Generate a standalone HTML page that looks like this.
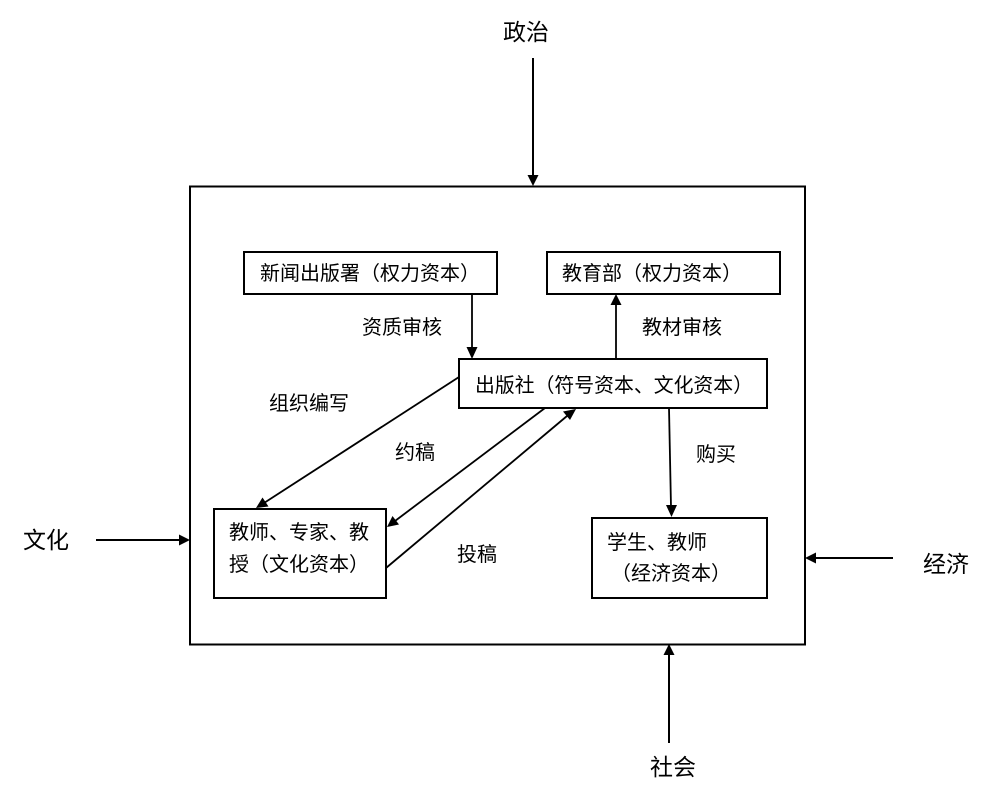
<!DOCTYPE html>
<html>
<head>
<meta charset="utf-8">
<style>
html,body{margin:0;padding:0;background:#fff;}
svg{display:block;}
text{font-family:"Liberation Sans","Noto Sans CJK SC",sans-serif;fill:#000;}
.o{font-size:23px;}
.i{font-size:20px;}
</style>
</head>
<body>
<svg width="989" height="797" viewBox="0 0 989 797" xmlns="http://www.w3.org/2000/svg">
<g stroke="#000" fill="none">
  <rect x="190" y="186.5" width="615" height="458" stroke-width="2"/>
  <rect x="244" y="252" width="253" height="42" stroke-width="2"/>
  <rect x="547" y="252" width="233" height="42" stroke-width="2"/>
  <rect x="459" y="359" width="308" height="49" stroke-width="2"/>
  <rect x="214" y="509" width="172" height="89" stroke-width="2"/>
  <rect x="592" y="518" width="175" height="80" stroke-width="2"/>
  <!-- outer arrows -->
  <line x1="533" y1="58" x2="533" y2="176" stroke-width="2"/>
  <line x1="96" y1="540" x2="180" y2="540" stroke-width="2"/>
  <line x1="893" y1="558" x2="815" y2="558" stroke-width="2"/>
  <line x1="669" y1="743" x2="669" y2="654" stroke-width="2"/>
  <!-- inner arrows -->
  <line x1="472" y1="294" x2="472" y2="348" stroke-width="1.8"/>
  <line x1="616" y1="359" x2="616" y2="304" stroke-width="1.8"/>
  <line x1="669" y1="408" x2="671" y2="507" stroke-width="1.8"/>
  <line x1="459" y1="377" x2="264" y2="503" stroke-width="1.8"/>
  <line x1="545" y1="408" x2="395" y2="521" stroke-width="1.8"/>
  <line x1="386" y1="568" x2="567" y2="416" stroke-width="1.8"/>
</g>
<g fill="#000">
  <polygon points="533,186 527.5,175 538.5,175"/>
  <polygon points="190,540 179,534.5 179,545.5"/>
  <polygon points="805,558 816,552.5 816,563.5"/>
  <polygon points="669,644 663.5,655 674.5,655"/>
  <polygon points="472,359 466.5,347 477.5,347"/>
  <polygon points="616,294 610.5,305 621.5,305"/>
  <polygon points="671.5,517 666,505 677,505"/>
  <!-- 组织编写 head at (256,508) direction from (459,377) -->
  <polygon points="256,508 262.5,497.5 268.5,506.5"/>
  <!-- 约稿 head at (387,527) -->
  <polygon points="387,527 392.5,516 399,524.5"/>
  <!-- 投稿 head at (576,409) -->
  <polygon points="576,409 570,420 563,411.5"/>
</g>
<g>
  <text class="o" x="503" y="40">政治</text>
  <text class="o" x="23" y="548">文化</text>
  <text class="o" x="923" y="572">经济</text>
  <text class="o" x="650" y="775">社会</text>

  <text class="i" x="260" y="280">新闻出版署（权力资本）</text>
  <text class="i" x="562" y="280">教育部（权力资本）</text>
  <text class="i" x="475" y="392" textLength="278" lengthAdjust="spacingAndGlyphs">出版社（符号资本、文化资本）</text>
  <text class="i" x="229" y="539">教师、专家、教</text>
  <text class="i" x="229" y="571">授（文化资本）</text>
  <text class="i" x="607" y="549">学生、教师</text>
  <text class="i" x="611" y="580">（经济资本）</text>

  <text class="i" x="362" y="334">资质审核</text>
  <text class="i" x="642" y="334">教材审核</text>
  <text class="i" x="269" y="410">组织编写</text>
  <text class="i" x="395" y="459">约稿</text>
  <text class="i" x="457" y="561">投稿</text>
  <text class="i" x="696" y="461">购买</text>
</g>
</svg>
</body>
</html>
